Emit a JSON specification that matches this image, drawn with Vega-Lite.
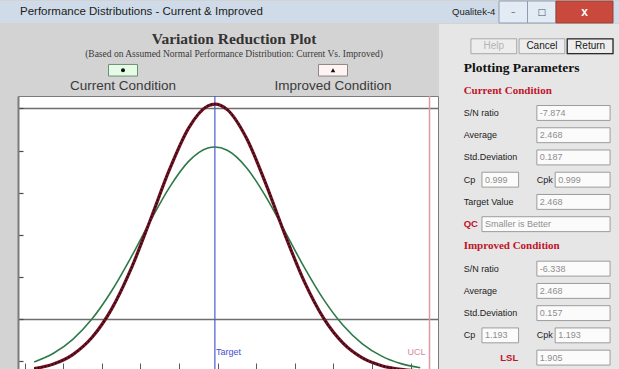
{
  "$schema": "https://vega.github.io/schema/vega-lite/v6.json",
  "background": "#d3d3d3",
  "padding": 0,
  "spacing": 0,
  "config": {"view": {"stroke": null}, "concat": {"spacing": 0}},
  "datasets": {
    "chrome": [
      {"slot": "caption", "text": "Performance Distributions - Current & Improved"},
      {"slot": "app", "text": "Qualitek-4"}
    ],
    "winButtons": [
      {"from": "b1", "to": "b1", "kind": "plain", "glyph": "–"},
      {"from": "b2", "to": "b2", "kind": "plain", "glyph": "□"},
      {"from": "b3", "to": "b4", "kind": "close", "glyph": "x"}
    ],
    "header": [
      {"role": "title", "text": "Variation Reduction Plot", "series": null},
      {"role": "subtitle", "text": "(Based on Assumed Normal Performance Distribution: Current Vs. Improved)", "series": null},
      {"role": "box", "text": "", "series": "Current Condition"},
      {"role": "box", "text": "", "series": "Improved Condition"},
      {"role": "label", "text": "Current Condition", "series": "Current Condition"},
      {"role": "label", "text": "Improved Condition", "series": "Improved Condition"}
    ],
    "curves": [
      {"x": 2.000, "density": 0.0931, "series": "Current Condition"},
      {"x": 2.050, "density": 0.1754, "series": "Current Condition"},
      {"x": 2.100, "density": 0.3077, "series": "Current Condition"},
      {"x": 2.150, "density": 0.5025, "series": "Current Condition"},
      {"x": 2.200, "density": 0.7640, "series": "Current Condition"},
      {"x": 2.250, "density": 1.0814, "series": "Current Condition"},
      {"x": 2.300, "density": 1.4249, "series": "Current Condition"},
      {"x": 2.350, "density": 1.7483, "series": "Current Condition"},
      {"x": 2.400, "density": 1.9969, "series": "Current Condition"},
      {"x": 2.450, "density": 2.1235, "series": "Current Condition"},
      {"x": 2.468, "density": 2.1334, "series": "Current Condition"},
      {"x": 2.500, "density": 2.1024, "series": "Current Condition"},
      {"x": 2.550, "density": 1.9378, "series": "Current Condition"},
      {"x": 2.600, "density": 1.6629, "series": "Current Condition"},
      {"x": 2.650, "density": 1.3286, "series": "Current Condition"},
      {"x": 2.700, "density": 0.9882, "series": "Current Condition"},
      {"x": 2.750, "density": 0.6843, "series": "Current Condition"},
      {"x": 2.800, "density": 0.4412, "series": "Current Condition"},
      {"x": 2.850, "density": 0.2648, "series": "Current Condition"},
      {"x": 2.900, "density": 0.1480, "series": "Current Condition"},
      {"x": 2.950, "density": 0.0770, "series": "Current Condition"},
      {"x": 3.000, "density": 0.0373, "series": "Current Condition"},
      {"x": 2.000, "density": 0.0299, "series": "Improved Condition"},
      {"x": 2.050, "density": 0.0734, "series": "Improved Condition"},
      {"x": 2.100, "density": 0.1629, "series": "Improved Condition"},
      {"x": 2.150, "density": 0.3267, "series": "Improved Condition"},
      {"x": 2.200, "density": 0.5919, "series": "Improved Condition"},
      {"x": 2.250, "density": 0.9690, "series": "Improved Condition"},
      {"x": 2.300, "density": 1.4334, "series": "Improved Condition"},
      {"x": 2.350, "density": 1.9158, "series": "Improved Condition"},
      {"x": 2.400, "density": 2.3135, "series": "Improved Condition"},
      {"x": 2.450, "density": 2.5244, "series": "Improved Condition"},
      {"x": 2.468, "density": 2.5410, "series": "Improved Condition"},
      {"x": 2.500, "density": 2.4888, "series": "Improved Condition"},
      {"x": 2.550, "density": 2.2170, "series": "Improved Condition"},
      {"x": 2.600, "density": 1.7845, "series": "Improved Condition"},
      {"x": 2.650, "density": 1.2977, "series": "Improved Condition"},
      {"x": 2.700, "density": 0.8528, "series": "Improved Condition"},
      {"x": 2.750, "density": 0.5063, "series": "Improved Condition"},
      {"x": 2.800, "density": 0.2716, "series": "Improved Condition"},
      {"x": 2.850, "density": 0.1317, "series": "Improved Condition"},
      {"x": 2.900, "density": 0.0577, "series": "Improved Condition"},
      {"x": 2.950, "density": 0.0228, "series": "Improved Condition"},
      {"x": 3.000, "density": 0.0082, "series": "Improved Condition"}
    ],
    "limits": [
      {"name": "Target", "x": 2.468},
      {"name": "UCL", "x": 3.024}
    ],
    "panelButtons": [
      {"name": "Help", "row": "r0"},
      {"name": "Cancel", "row": "r0"},
      {"name": "Return", "row": "r0"}
    ],
    "panelText": [
      {"row": "r1", "col": "a", "kind": "heading", "text": "Plotting Parameters"},
      {"row": "r2", "col": "a", "kind": "section", "text": "Current Condition"},
      {"row": "r3", "col": "a", "kind": "label", "text": "S/N ratio"},
      {"row": "r4", "col": "a", "kind": "label", "text": "Average"},
      {"row": "r5", "col": "a", "kind": "label", "text": "Std.Deviation"},
      {"row": "r6", "col": "a", "kind": "label", "text": "Cp"},
      {"row": "r6", "col": "e", "kind": "label", "text": "Cpk"},
      {"row": "r7", "col": "a", "kind": "label", "text": "Target Value"},
      {"row": "r8", "col": "a", "kind": "accent", "text": "QC"},
      {"row": "r9", "col": "a", "kind": "section", "text": "Improved  Condition"},
      {"row": "r10", "col": "a", "kind": "label", "text": "S/N ratio"},
      {"row": "r11", "col": "a", "kind": "label", "text": "Average"},
      {"row": "r12", "col": "a", "kind": "label", "text": "Std.Deviation"},
      {"row": "r13", "col": "a", "kind": "label", "text": "Cp"},
      {"row": "r13", "col": "e", "kind": "label", "text": "Cpk"},
      {"row": "r14", "col": "c", "kind": "accent", "text": "LSL"}
    ],
    "panelBoxes": [
      {"row": "r3", "from": "e", "to": "h", "value": "-7.874"},
      {"row": "r4", "from": "e", "to": "h", "value": "2.468"},
      {"row": "r5", "from": "e", "to": "h", "value": "0.187"},
      {"row": "r6", "from": "b", "to": "c", "value": "0.999"},
      {"row": "r6", "from": "f", "to": "h", "value": "0.999"},
      {"row": "r7", "from": "e", "to": "h", "value": "2.468"},
      {"row": "r8", "from": "b", "to": "h", "value": "Smaller is Better"},
      {"row": "r10", "from": "e", "to": "h", "value": "-6.338"},
      {"row": "r11", "from": "e", "to": "h", "value": "2.468"},
      {"row": "r12", "from": "e", "to": "h", "value": "0.157"},
      {"row": "r13", "from": "b", "to": "c", "value": "1.193"},
      {"row": "r13", "from": "f", "to": "h", "value": "1.193"},
      {"row": "r14", "from": "e", "to": "h", "value": "1.905"}
    ]
  },
  "vconcat": [
    {
      "width": 619,
      "height": 22,
      "view": {"fill": "#cfdbe8", "stroke": null},
      "resolve": {"scale": {"x": "independent"}},
      "layer": [
        {
          "data": {"name": "chrome"},
          "transform": [{"filter": "datum.slot == 'caption'"}],
          "mark": {"type": "text", "align": "left", "baseline": "middle", "font": "Liberation Sans", "fontSize": 11.5, "color": "#1b1b1b"},
          "encoding": {
            "x": {"field": "slot", "type": "nominal", "axis": null, "scale": {"type": "point", "domain": ["caption", "app"], "padding": 0.2164, "align": 0.107}},
            "text": {"field": "text"}
          }
        },
        {
          "data": {"name": "chrome"},
          "transform": [{"filter": "datum.slot == 'app'"}],
          "mark": {"type": "text", "align": "left", "baseline": "middle", "font": "Liberation Sans", "fontSize": 9.5, "color": "#1b1b1b"},
          "encoding": {
            "x": {"field": "slot", "type": "nominal", "axis": null, "scale": {"type": "point", "domain": ["caption", "app"], "padding": 0.2164, "align": 0.107}},
            "text": {"field": "text"}
          }
        },
        {
          "data": {"name": "winButtons"},
          "transform": [{"filter": "datum.kind == 'plain'"}],
          "mark": {"type": "rect", "fill": "#e3ebf4", "stroke": "#8d9db1", "strokeWidth": 1},
          "encoding": {
            "x": {"field": "from", "type": "nominal", "bandPosition": 0, "axis": null, "scale": {"type": "band", "domain": ["b1", "b2", "b3", "b4"], "range": [499, 613], "paddingInner": 0, "paddingOuter": 0}},
            "x2": {"field": "to", "bandPosition": 1}
          }
        },
        {
          "data": {"name": "winButtons"},
          "transform": [{"filter": "datum.kind == 'close'"}],
          "mark": {"type": "rect", "fill": "#c9493d", "stroke": "#94443c", "strokeWidth": 1},
          "encoding": {
            "x": {"field": "from", "type": "nominal", "bandPosition": 0, "axis": null, "scale": {"type": "band", "domain": ["b1", "b2", "b3", "b4"], "range": [499, 613], "paddingInner": 0, "paddingOuter": 0}},
            "x2": {"field": "to", "bandPosition": 1}
          }
        },
        {
          "data": {"name": "winButtons"},
          "transform": [{"filter": "datum.kind == 'close'"}],
          "mark": {"type": "text", "align": "center", "baseline": "middle", "font": "Liberation Sans", "fontWeight": "bold", "fontSize": 12, "color": "white"},
          "encoding": {
            "x": {"field": "to", "type": "nominal", "bandPosition": 0, "axis": null, "scale": {"type": "band", "domain": ["b1", "b2", "b3", "b4"], "range": [499, 613], "paddingInner": 0, "paddingOuter": 0}},
            "text": {"field": "glyph"}
          }
        },
        {
          "data": {"name": "winButtons"},
          "transform": [{"filter": "datum.kind == 'plain'"}],
          "mark": {"type": "text", "align": "center", "baseline": "middle", "font": "DejaVu Sans", "fontSize": 9, "color": "#44556a"},
          "encoding": {
            "x": {"field": "from", "type": "nominal", "bandPosition": 0.5, "axis": null, "scale": {"type": "band", "domain": ["b1", "b2", "b3", "b4"], "range": [499, 613], "paddingInner": 0, "paddingOuter": 0}},
            "text": {"field": "glyph"}
          }
        }
      ]
    },
    {
      "spacing": 0,
      "hconcat": [
        {
          "width": 16,
          "height": 345,
          "data": {"values": [{}]},
          "mark": {"type": "text"},
          "encoding": {"text": {"value": ""}}
        },
        {
          "spacing": 0,
          "vconcat": [
            {
              "width": 420,
              "height": 70,
              "data": {"name": "header"},
              "layer": [
                {
                  "transform": [{"filter": "datum.role == 'title'"}],
                  "mark": {"type": "text", "baseline": "middle", "dx": 6, "font": "Liberation Serif", "fontWeight": "bold", "fontSize": 15.5, "color": "#333333"},
                  "encoding": {
                    "y": {"field": "role", "type": "nominal", "axis": null, "scale": {"type": "band", "domain": ["title", "subtitle", "box", "label"], "paddingInner": 0, "paddingOuter": 0.211, "align": 1}},
                    "text": {"field": "text"}
                  }
                },
                {
                  "transform": [{"filter": "datum.role == 'subtitle'"}],
                  "mark": {"type": "text", "baseline": "middle", "dx": 6, "font": "Liberation Serif", "fontSize": 9.5, "color": "#3a3a3a"},
                  "encoding": {
                    "y": {"field": "role", "type": "nominal", "axis": null, "scale": {"type": "band", "domain": ["title", "subtitle", "box", "label"], "paddingInner": 0, "paddingOuter": 0.211, "align": 1}},
                    "text": {"field": "text"}
                  }
                },
                {
                  "transform": [{"filter": "datum.role == 'box' && datum.series == 'Current Condition'"}],
                  "mark": {"type": "point", "filled": true, "shape": "M-1,-0.4L1,-0.4L1,0.4L-1,0.4Z", "size": 841, "fill": "#e6fbe6", "stroke": "#6f8f72", "strokeWidth": 1, "opacity": 1},
                  "encoding": {
                    "x": {"field": "series", "type": "nominal", "axis": null, "scale": {"type": "band", "domain": ["Current Condition", "Improved Condition"], "paddingInner": 0, "paddingOuter": 0}},
                    "y": {"field": "role", "type": "nominal", "axis": null, "scale": {"type": "band", "domain": ["title", "subtitle", "box", "label"], "paddingInner": 0, "paddingOuter": 0.211, "align": 1}}
                  }
                },
                {
                  "transform": [{"filter": "datum.role == 'box' && datum.series == 'Improved Condition'"}],
                  "mark": {"type": "point", "filled": true, "shape": "M-1,-0.4L1,-0.4L1,0.4L-1,0.4Z", "size": 841, "fill": "#fff3f3", "stroke": "#8f8585", "strokeWidth": 1, "opacity": 1},
                  "encoding": {
                    "x": {"field": "series", "type": "nominal", "axis": null, "scale": {"type": "band", "domain": ["Current Condition", "Improved Condition"], "paddingInner": 0, "paddingOuter": 0}},
                    "y": {"field": "role", "type": "nominal", "axis": null, "scale": {"type": "band", "domain": ["title", "subtitle", "box", "label"], "paddingInner": 0, "paddingOuter": 0.211, "align": 1}}
                  }
                },
                {
                  "transform": [{"filter": "datum.role == 'box' && datum.series == 'Current Condition'"}],
                  "mark": {"type": "point", "filled": true, "shape": "circle", "size": 16, "color": "#111111", "opacity": 1},
                  "encoding": {
                    "x": {"field": "series", "type": "nominal", "axis": null, "scale": {"type": "band", "domain": ["Current Condition", "Improved Condition"], "paddingInner": 0, "paddingOuter": 0}},
                    "y": {"field": "role", "type": "nominal", "axis": null, "scale": {"type": "band", "domain": ["title", "subtitle", "box", "label"], "paddingInner": 0, "paddingOuter": 0.211, "align": 1}}
                  }
                },
                {
                  "transform": [{"filter": "datum.role == 'box' && datum.series == 'Improved Condition'"}],
                  "mark": {"type": "point", "filled": true, "shape": "triangle-up", "size": 20, "color": "#111111", "opacity": 1},
                  "encoding": {
                    "x": {"field": "series", "type": "nominal", "axis": null, "scale": {"type": "band", "domain": ["Current Condition", "Improved Condition"], "paddingInner": 0, "paddingOuter": 0}},
                    "y": {"field": "role", "type": "nominal", "axis": null, "scale": {"type": "band", "domain": ["title", "subtitle", "box", "label"], "paddingInner": 0, "paddingOuter": 0.211, "align": 1}}
                  }
                },
                {
                  "transform": [{"filter": "datum.role == 'label'"}],
                  "mark": {"type": "text", "baseline": "middle", "align": "center", "font": "Liberation Sans", "fontSize": 13.5, "color": "#3a3a3a"},
                  "encoding": {
                    "x": {"field": "series", "type": "nominal", "axis": null, "scale": {"type": "band", "domain": ["Current Condition", "Improved Condition"], "paddingInner": 0, "paddingOuter": 0}},
                    "y": {"field": "role", "type": "nominal", "axis": null, "scale": {"type": "band", "domain": ["title", "subtitle", "box", "label"], "paddingInner": 0, "paddingOuter": 0.211, "align": 1}},
                    "text": {"field": "text"}
                  }
                }
              ]
            },
            {
              "width": 420,
              "height": 273,
              "view": {"fill": "white", "stroke": "#7b7b7b", "strokeWidth": 1},
              "layer": [
                {
                  "data": {"name": "curves"},
                  "transform": [{"filter": "datum.series == 'Current Condition'"}],
                  "mark": {"type": "line", "clip": true, "interpolate": "monotone", "color": "#2d7a46", "strokeWidth": 1.6},
                  "encoding": {
                    "x": {
                      "field": "x", "type": "quantitative",
                      "scale": {"domain": [1.958, 3.046], "nice": false, "zero": false},
                      "axis": {
                        "orient": "bottom", "title": null, "labels": false, "domain": false,
                        "values": [1.975, 2, 2.025, 2.05, 2.075, 2.1, 2.125, 2.15, 2.175, 2.2, 2.225, 2.25, 2.275, 2.3, 2.325, 2.35, 2.375, 2.4, 2.425, 2.45, 2.475, 2.5, 2.525, 2.55, 2.575, 2.6, 2.625, 2.65, 2.675, 2.7, 2.725, 2.75, 2.775, 2.8, 2.825, 2.85, 2.875, 2.9, 2.925, 2.95, 2.975, 3, 3.025],
                        "ticks": true, "tickSize": -6, "tickColor": "#5a5a5a", "tickWidth": 1,
                        "grid": true, "gridColor": "#6e6e6e", "gridWidth": 1.6,
                        "gridOpacity": {"condition": {"test": "abs(datum.value*10 - round(datum.value*10)) < 0.01", "value": 1}, "value": 0}
                      }
                    },
                    "y": {
                      "field": "density", "type": "quantitative",
                      "scale": {"domain": [0.026, 2.618], "nice": false, "zero": false},
                      "axis": {
                        "orient": "left", "title": null, "labels": false, "domain": true, "domainColor": "#7b7b7b", "domainWidth": 2,
                        "values": [0.1, 0.2, 0.3, 0.4, 0.5, 0.6, 0.7, 0.8, 0.9, 1, 1.1, 1.2, 1.3, 1.4, 1.5, 1.6, 1.7, 1.8, 1.9, 2, 2.1, 2.2, 2.3, 2.4, 2.5, 2.6],
                        "ticks": true, "tickSize": -5, "tickColor": "#4a4a4a", "tickWidth": 1.2,
                        "grid": true, "gridColor": "#6e6e6e", "gridWidth": 1.6,
                        "gridOpacity": {"condition": {"test": "abs(datum.value*2 - round(datum.value*2)) < 0.01", "value": 1}, "value": 0}
                      }
                    }
                  }
                },
                {
                  "data": {"name": "limits"},
                  "transform": [{"filter": "datum.name == 'Target'"}],
                  "mark": {"type": "rule", "strokeWidth": 1.2, "color": "#4b5bd0"},
                  "encoding": {
                    "x": {"field": "x", "type": "quantitative", "scale": {"domain": [1.958, 3.046], "nice": false, "zero": false}}
                  }
                },
                {
                  "data": {"name": "limits"},
                  "transform": [{"filter": "datum.name == 'UCL'"}],
                  "mark": {"type": "rule", "strokeWidth": 1.5, "color": "#dc9aa6"},
                  "encoding": {
                    "x": {"field": "x", "type": "quantitative", "scale": {"domain": [1.958, 3.046], "nice": false, "zero": false}}
                  }
                },
                {
                  "data": {"name": "curves"},
                  "transform": [{"filter": "datum.series == 'Improved Condition'"}],
                  "mark": {"type": "line", "clip": true, "interpolate": "monotone", "color": "#7a1226", "strokeWidth": 3.2},
                  "encoding": {
                    "x": {"field": "x", "type": "quantitative", "scale": {"domain": [1.958, 3.046], "nice": false, "zero": false}},
                    "y": {"field": "density", "type": "quantitative", "scale": {"domain": [0.026, 2.618], "nice": false, "zero": false}}
                  }
                },
                {
                  "data": {"name": "curves"},
                  "transform": [{"filter": "datum.series == 'Improved Condition'"}],
                  "mark": {"type": "line", "clip": true, "interpolate": "monotone", "color": "#111111", "strokeWidth": 1.8, "strokeDash": [1.4, 2.2]},
                  "encoding": {
                    "x": {"field": "x", "type": "quantitative", "scale": {"domain": [1.958, 3.046], "nice": false, "zero": false}},
                    "y": {"field": "density", "type": "quantitative", "scale": {"domain": [0.026, 2.618], "nice": false, "zero": false}}
                  }
                },
                {
                  "data": {"name": "limits"},
                  "transform": [{"filter": "datum.name == 'Target'"}],
                  "mark": {"type": "text", "align": "left", "baseline": "middle", "dx": 1, "font": "Liberation Sans", "fontSize": 9, "color": "#3f4fd0"},
                  "encoding": {
                    "x": {"field": "x", "type": "quantitative", "scale": {"domain": [1.958, 3.046], "nice": false, "zero": false}},
                    "y": {"datum": 0.19, "type": "quantitative", "scale": {"domain": [0.026, 2.618], "nice": false, "zero": false}},
                    "text": {"field": "name"}
                  }
                },
                {
                  "data": {"name": "limits"},
                  "transform": [{"filter": "datum.name == 'UCL'"}],
                  "mark": {"type": "text", "align": "right", "baseline": "middle", "dx": -4, "font": "Liberation Sans", "fontSize": 9, "color": "#d4899a"},
                  "encoding": {
                    "x": {"field": "x", "type": "quantitative", "scale": {"domain": [1.958, 3.046], "nice": false, "zero": false}},
                    "y": {"datum": 0.19, "type": "quantitative", "scale": {"domain": [0.026, 2.618], "nice": false, "zero": false}},
                    "text": {"field": "name"}
                  }
                }
              ]
            }
          ]
        },
        {
          "width": 183,
          "height": 345,
          "view": {"fill": "#e6e6e6", "stroke": null},
          "resolve": {"scale": {"x": "independent"}},
          "layer": [
            {
              "data": {"name": "panelButtons"},
              "mark": {"type": "rect", "strokeWidth": 1, "fill": "#ededed", "stroke": "#a8a8a8"},
              "encoding": {
                "x": {"field": "name", "type": "nominal", "axis": null, "scale": {"type": "band", "domain": ["Help", "Cancel", "Return"], "paddingInner": 0.05, "paddingOuter": 0.425, "align": 0.78}},
                "y": {"field": "row", "type": "nominal", "axis": null, "scale": {"type": "band", "domain": ["r0", "r1", "r2", "r3", "r4", "r5", "r6", "r7", "r8", "r9", "r10", "r11", "r12", "r13", "r14"], "paddingInner": 0.33, "paddingOuter": 0.421, "align": 0.79}}
              }
            },
            {
              "data": {"name": "panelButtons"},
              "transform": [{"filter": "datum.name == 'Return'"}],
              "mark": {"type": "rect", "strokeWidth": 1.3, "fill": "#ededed", "stroke": "#2a2a2a"},
              "encoding": {
                "x": {"field": "name", "type": "nominal", "axis": null, "scale": {"type": "band", "domain": ["Help", "Cancel", "Return"], "paddingInner": 0.05, "paddingOuter": 0.425, "align": 0.78}},
                "y": {"field": "row", "type": "nominal", "axis": null, "scale": {"type": "band", "domain": ["r0", "r1", "r2", "r3", "r4", "r5", "r6", "r7", "r8", "r9", "r10", "r11", "r12", "r13", "r14"], "paddingInner": 0.33, "paddingOuter": 0.421, "align": 0.79}}
              }
            },
            {
              "data": {"name": "panelButtons"},
              "transform": [{"filter": "datum.name == 'Help'"}],
              "mark": {"type": "text", "align": "center", "baseline": "middle", "font": "Liberation Sans", "fontSize": 10, "color": "#b4b4b4"},
              "encoding": {
                "x": {"field": "name", "type": "nominal", "axis": null, "scale": {"type": "band", "domain": ["Help", "Cancel", "Return"], "paddingInner": 0.05, "paddingOuter": 0.425, "align": 0.78}},
                "y": {"field": "row", "type": "nominal", "axis": null, "scale": {"type": "band", "domain": ["r0", "r1", "r2", "r3", "r4", "r5", "r6", "r7", "r8", "r9", "r10", "r11", "r12", "r13", "r14"], "paddingInner": 0.33, "paddingOuter": 0.421, "align": 0.79}},
                "text": {"field": "name"}
              }
            },
            {
              "data": {"name": "panelButtons"},
              "transform": [{"filter": "datum.name != 'Help'"}],
              "mark": {"type": "text", "align": "center", "baseline": "middle", "font": "Liberation Sans", "fontSize": 10, "color": "#1a1a1a"},
              "encoding": {
                "x": {"field": "name", "type": "nominal", "axis": null, "scale": {"type": "band", "domain": ["Help", "Cancel", "Return"], "paddingInner": 0.05, "paddingOuter": 0.425, "align": 0.78}},
                "y": {"field": "row", "type": "nominal", "axis": null, "scale": {"type": "band", "domain": ["r0", "r1", "r2", "r3", "r4", "r5", "r6", "r7", "r8", "r9", "r10", "r11", "r12", "r13", "r14"], "paddingInner": 0.33, "paddingOuter": 0.421, "align": 0.79}},
                "text": {"field": "name"}
              }
            },
            {
              "data": {"name": "panelBoxes"},
              "mark": {"type": "rect", "fill": "#fbfbfb", "stroke": "#9c9c9c", "strokeWidth": 1},
              "encoding": {
                "x": {"field": "from", "type": "nominal", "bandPosition": 0, "axis": null, "scale": {"type": "band", "domain": ["a", "b", "c", "d", "e", "f", "g", "h"], "paddingInner": 0, "paddingOuter": 1, "align": 0.674}},
                "x2": {"field": "to", "bandPosition": 1},
                "y": {"field": "row", "type": "nominal", "axis": null, "scale": {"type": "band", "domain": ["r0", "r1", "r2", "r3", "r4", "r5", "r6", "r7", "r8", "r9", "r10", "r11", "r12", "r13", "r14"], "paddingInner": 0.33, "paddingOuter": 0.421, "align": 0.79}}
              }
            },
            {
              "data": {"name": "panelBoxes"},
              "mark": {"type": "text", "align": "left", "baseline": "middle", "dx": 3, "font": "Liberation Sans", "fontSize": 9, "color": "#8e8e8e"},
              "encoding": {
                "x": {"field": "from", "type": "nominal", "bandPosition": 0, "axis": null, "scale": {"type": "band", "domain": ["a", "b", "c", "d", "e", "f", "g", "h"], "paddingInner": 0, "paddingOuter": 1, "align": 0.674}},
                "y": {"field": "row", "type": "nominal", "axis": null, "scale": {"type": "band", "domain": ["r0", "r1", "r2", "r3", "r4", "r5", "r6", "r7", "r8", "r9", "r10", "r11", "r12", "r13", "r14"], "paddingInner": 0.33, "paddingOuter": 0.421, "align": 0.79}},
                "text": {"field": "value"}
              }
            },
            {
              "data": {"name": "panelText"},
              "transform": [{"filter": "datum.kind == 'label'"}],
              "mark": {"type": "text", "align": "left", "baseline": "middle", "font": "Liberation Sans", "fontSize": 9, "color": "#222222"},
              "encoding": {
                "x": {"field": "col", "type": "nominal", "bandPosition": 0, "axis": null, "scale": {"type": "band", "domain": ["a", "b", "c", "d", "e", "f", "g", "h"], "paddingInner": 0, "paddingOuter": 1, "align": 0.674}},
                "y": {"field": "row", "type": "nominal", "axis": null, "scale": {"type": "band", "domain": ["r0", "r1", "r2", "r3", "r4", "r5", "r6", "r7", "r8", "r9", "r10", "r11", "r12", "r13", "r14"], "paddingInner": 0.33, "paddingOuter": 0.421, "align": 0.79}},
                "text": {"field": "text"}
              }
            },
            {
              "data": {"name": "panelText"},
              "transform": [{"filter": "datum.kind == 'heading'"}],
              "mark": {"type": "text", "align": "left", "baseline": "middle", "font": "Liberation Serif", "fontWeight": "bold", "fontSize": 13.5, "color": "#111111"},
              "encoding": {
                "x": {"field": "col", "type": "nominal", "bandPosition": 0, "axis": null, "scale": {"type": "band", "domain": ["a", "b", "c", "d", "e", "f", "g", "h"], "paddingInner": 0, "paddingOuter": 1, "align": 0.674}},
                "y": {"field": "row", "type": "nominal", "axis": null, "scale": {"type": "band", "domain": ["r0", "r1", "r2", "r3", "r4", "r5", "r6", "r7", "r8", "r9", "r10", "r11", "r12", "r13", "r14"], "paddingInner": 0.33, "paddingOuter": 0.421, "align": 0.79}},
                "text": {"field": "text"}
              }
            },
            {
              "data": {"name": "panelText"},
              "transform": [{"filter": "datum.kind == 'section'"}],
              "mark": {"type": "text", "align": "left", "baseline": "middle", "font": "Liberation Serif", "fontWeight": "bold", "fontSize": 11, "color": "#c0142a"},
              "encoding": {
                "x": {"field": "col", "type": "nominal", "bandPosition": 0, "axis": null, "scale": {"type": "band", "domain": ["a", "b", "c", "d", "e", "f", "g", "h"], "paddingInner": 0, "paddingOuter": 1, "align": 0.674}},
                "y": {"field": "row", "type": "nominal", "axis": null, "scale": {"type": "band", "domain": ["r0", "r1", "r2", "r3", "r4", "r5", "r6", "r7", "r8", "r9", "r10", "r11", "r12", "r13", "r14"], "paddingInner": 0.33, "paddingOuter": 0.421, "align": 0.79}},
                "text": {"field": "text"}
              }
            },
            {
              "data": {"name": "panelText"},
              "transform": [{"filter": "datum.kind == 'accent'"}],
              "mark": {"type": "text", "align": "left", "baseline": "middle", "font": "Liberation Sans", "fontWeight": "bold", "fontSize": 9.5, "color": "#c0142a"},
              "encoding": {
                "x": {"field": "col", "type": "nominal", "bandPosition": 0, "axis": null, "scale": {"type": "band", "domain": ["a", "b", "c", "d", "e", "f", "g", "h"], "paddingInner": 0, "paddingOuter": 1, "align": 0.674}},
                "y": {"field": "row", "type": "nominal", "axis": null, "scale": {"type": "band", "domain": ["r0", "r1", "r2", "r3", "r4", "r5", "r6", "r7", "r8", "r9", "r10", "r11", "r12", "r13", "r14"], "paddingInner": 0.33, "paddingOuter": 0.421, "align": 0.79}},
                "text": {"field": "text"}
              }
            }
          ]
        }
      ]
    }
  ]
}
